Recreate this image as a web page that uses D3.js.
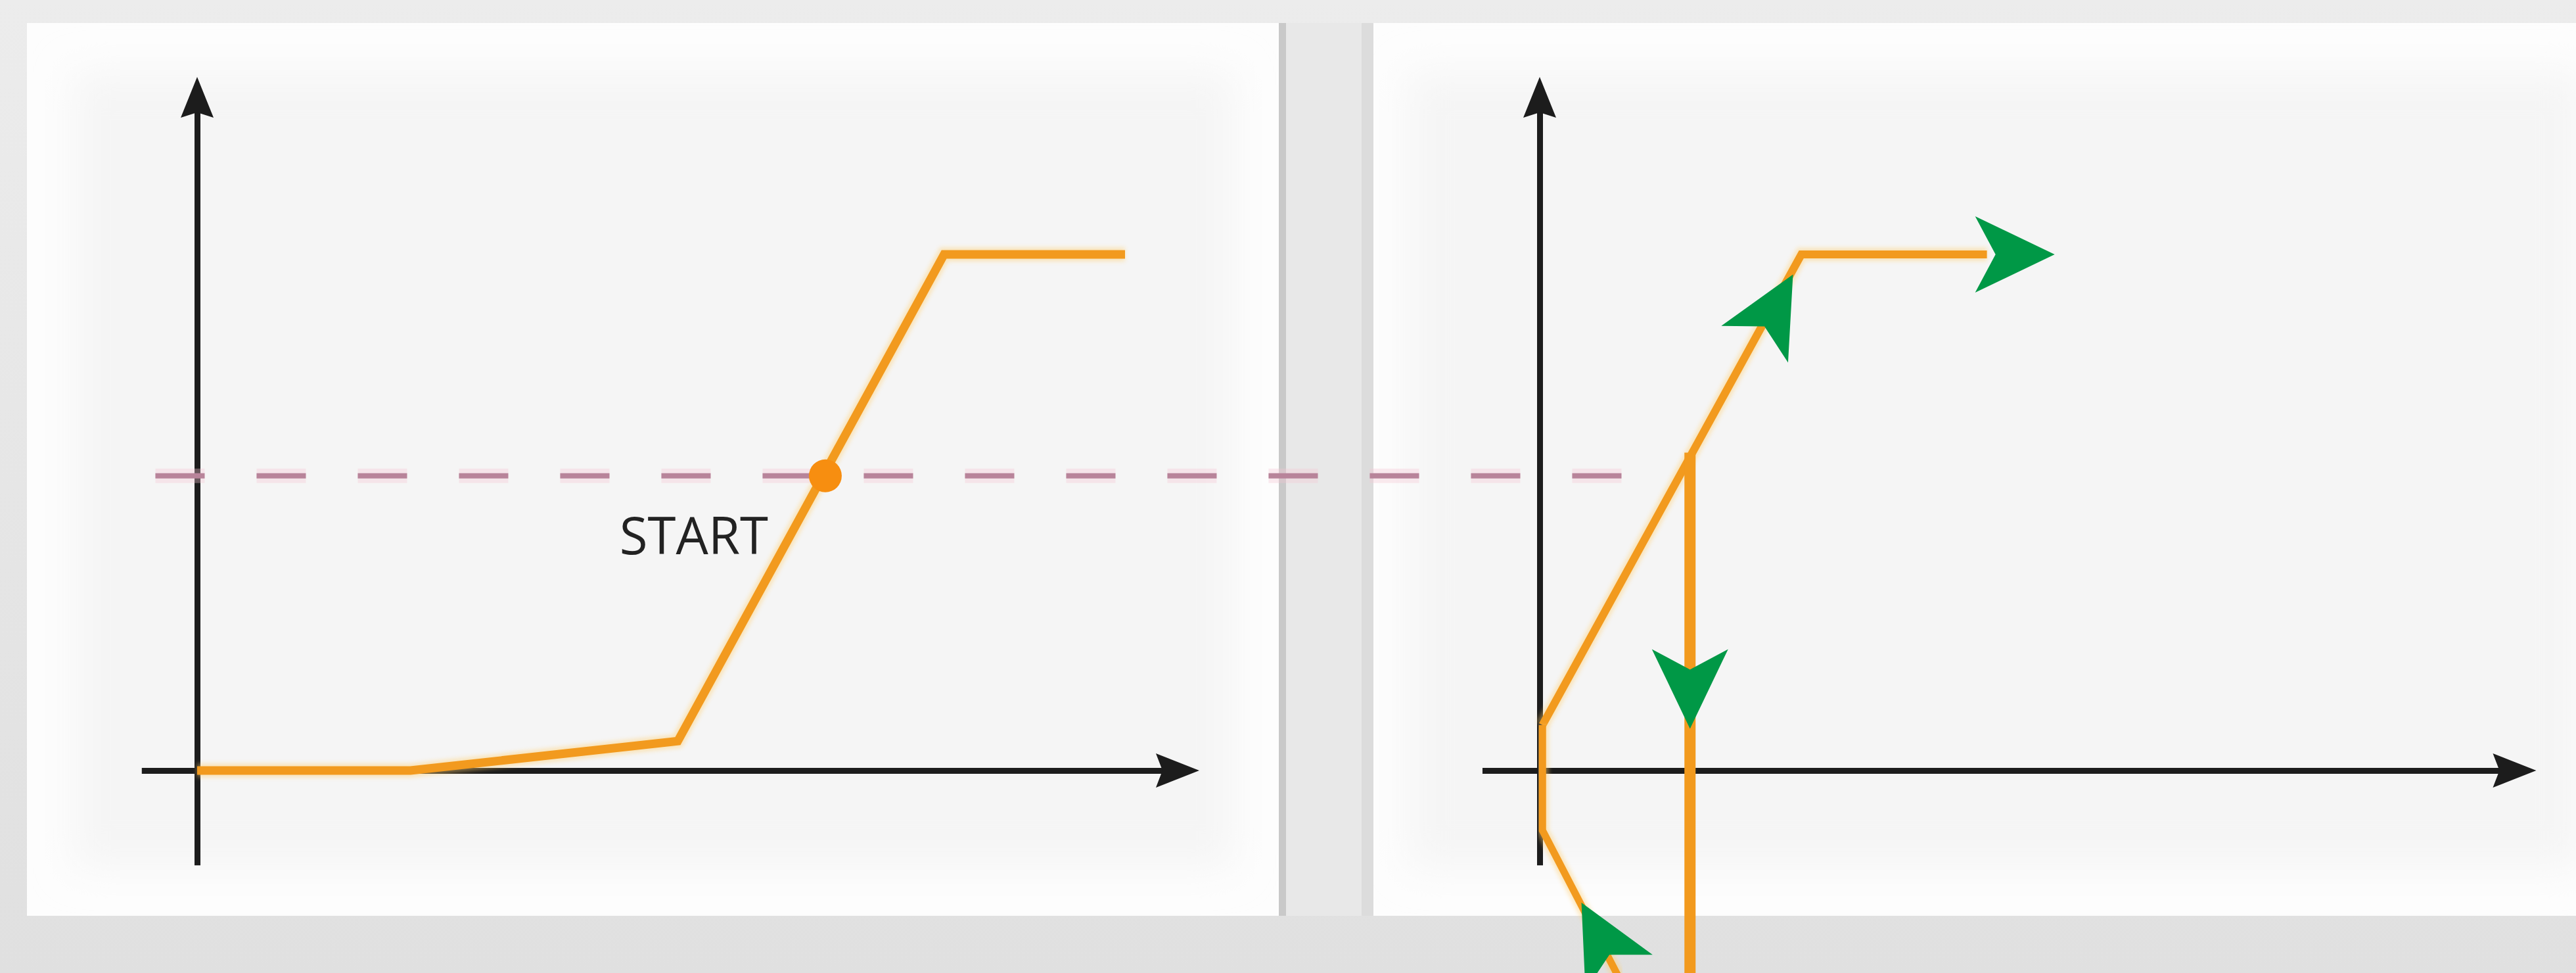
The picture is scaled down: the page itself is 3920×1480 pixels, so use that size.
<!DOCTYPE html>
<html><head><meta charset="utf-8">
<script src="https://cdn.jsdelivr.net/npm/d3@7"></script>
<style>html,body{margin:0;padding:0;background:#e4e4e4;overflow:hidden}
.lbl{font-family:'Open Sans',sans-serif;font-size:78px;fill:#222}</style>
</head><body><svg id="chart"></svg>
<script>
// ---------- data (abstract units: x 0..100 per panel, y 0..100) ----------
const leftCurveX = [0, 23, 51.8, 80.5, 100];
const leftCurveY = [0, 0, 5.7, 100, 100];
const rightRiseX = [0.3, 28.2, 48.2];
const rightRiseY = [8.8, 100, 100];
const rightLowerX = [0.3, 0.3, 8.5];
const rightLowerY = [8.8, -11.6, -40];
const rightDropX = [16.2, 16.2];
const rightDropY = [61.6, -40];
const thresholdY = 57.1;
const thresholdFromX = -4.5;   // in left-panel units
const thresholdToX = 9.1;      // in right-panel units
const startX = 67.7;
const startLabel = "START";
const axisXExtentLeft = [-6, 108];
const axisXExtentRight = [-6.2, 107.4];
const axisYExtent = [-18.3, 134.4];
const arrowTipX = [55.5, 27.3, 16.2, 4.5];
const arrowTipY = [100, 96.1, 8.1, -25.6];
const arrowDirX = [1, 27.9, 0, -8.2];
const arrowDirY = [0, 91.2, -1, 27.5];

// ---------- setup ----------
const W = 3920, H = 1480;
const svg = d3.select("#chart").attr("width", W).attr("height", H);
const defs = svg.append("defs");
defs.append("filter").attr("id", "soft").attr("x", "-20%").attr("y", "-20%").attr("width", "140%").attr("height", "140%")
  .append("feGaussianBlur").attr("stdDeviation", 30);
defs.append("filter").attr("id", "glow").attr("x", "-5%").attr("y", "-5%").attr("width", "110%").attr("height", "110%")
  .append("feGaussianBlur").attr("stdDeviation", 3);
const bg = defs.append("linearGradient").attr("id", "bg").attr("x1", 0).attr("y1", 0).attr("x2", 0).attr("y2", 1);
bg.append("stop").attr("offset", "0%").attr("stop-color", "#ececec");
bg.append("stop").attr("offset", "100%").attr("stop-color", "#e0e0e0");

svg.append("rect").attr("width", W).attr("height", H).attr("fill", "url(#bg)");

const xL = d3.scaleLinear().domain([0, 100]).range([300, 1712]);
const xR = d3.scaleLinear().domain([0, 100]).range([2343, 3755]);
const y = d3.scaleLinear().domain([0, 100]).range([1172, 387]);

// ---------- cards ----------
const cards = [{x0: 41, x1: 1948, pad: 70}, {x0: 2072, x1: 3930, pad: 0}];
cards.forEach(c => {
  svg.append("rect").attr("x", c.x0).attr("y", 35).attr("width", c.x1 - c.x0).attr("height", 1358).attr("fill", "#fdfdfd");
  svg.append("rect").attr("x", c.x0 + 70).attr("y", 110).attr("width", c.x1 - c.x0 - 70 - c.pad).attr("height", 1210)
    .attr("fill", "#f5f5f5").attr("filter", "url(#soft)");
});
svg.append("rect").attr("x", 1946).attr("y", 35).attr("width", 11).attr("height", 1358).attr("fill", "#c9c9c9");
svg.append("rect").attr("x", 2072).attr("y", 35).attr("width", 18).attr("height", 1358).attr("fill", "#dcdcdc");
svg.append("rect").attr("x", 1957).attr("y", 35).attr("width", 115).attr("height", 1358).attr("fill", "#e8e8e8");

// ---------- axes ----------
function drawAxes(xs, extX) {
  const tipX = xs(extX[1]), tipY = y(axisYExtent[1]);
  const xAxisScale = d3.scaleLinear().domain(extX).range([xs(extX[0]), tipX - 30]);
  const yAxisScale = d3.scaleLinear().domain(axisYExtent).range([y(axisYExtent[0]), tipY + 30]);
  const gx = svg.append("g").attr("transform", `translate(0,${y(0)})`)
    .call(d3.axisBottom(xAxisScale).tickValues([]).tickSizeOuter(0));
  const gy = svg.append("g").attr("transform", `translate(${xs(0)},0)`)
    .call(d3.axisLeft(yAxisScale).tickValues([]).tickSizeOuter(0));
  [gx, gy].forEach(g => g.select(".domain").attr("stroke", "#1c1c1c").attr("stroke-width", 9));
  svg.append("path").attr("fill", "#1c1c1c")
    .attr("d", `M${tipX},${y(0)}L${tipX - 66},${y(0) - 26}L${tipX - 56},${y(0)}L${tipX - 66},${y(0) + 26}Z`);
  svg.append("path").attr("fill", "#1c1c1c")
    .attr("d", `M${xs(0)},${tipY}L${xs(0) - 25},${tipY + 62}L${xs(0)},${tipY + 54}L${xs(0) + 25},${tipY + 62}Z`);
}
drawAxes(xL, axisXExtentLeft);
drawAxes(xR, axisXExtentRight);

// ---------- threshold dashed line ----------
svg.append("line")
  .attr("x1", xL(thresholdFromX)).attr("x2", xR(thresholdToX))
  .attr("y1", y(thresholdY)).attr("y2", y(thresholdY))
  .attr("stroke", "#f6c6d4").attr("stroke-width", 22).attr("stroke-dasharray", "75,79").attr("opacity", 0.35);
svg.append("line")
  .attr("x1", xL(thresholdFromX)).attr("x2", xR(thresholdToX))
  .attr("y1", y(thresholdY)).attr("y2", y(thresholdY))
  .attr("stroke", "#b8849a").attr("stroke-width", 8).attr("stroke-dasharray", "75,79");

// ---------- curves ----------
const orange = "#f29a1e";
function curve(xs, X, Y, w) {
  const pts = X.map((v, i) => [xs(v), y(Y[i])]);
  const ln = d3.line();
  svg.append("path").attr("d", ln(pts)).attr("fill", "none").attr("stroke", "#ffcf70")
    .attr("stroke-width", w + 8).attr("opacity", 0.45).attr("stroke-linejoin", "miter").attr("filter", "url(#glow)");
  svg.append("path").attr("d", ln(pts)).attr("fill", "none").attr("stroke", orange)
    .attr("stroke-width", w).attr("stroke-linejoin", "miter");
}
curve(xL, leftCurveX, leftCurveY, 13);
curve(xR, rightRiseX, rightRiseY, 12);
curve(xR, rightLowerX, rightLowerY, 11);
curve(xR, rightDropX, rightDropY, 17);

// start point and label
svg.append("circle").attr("cx", xL(startX)).attr("cy", y(thresholdY)).attr("r", 25).attr("fill", "#f78e10");
svg.append("text").attr("class", "lbl").attr("x", xL(startX) - 200).attr("y", 843)
  .attr("text-anchor", "middle").text(startLabel);

// ---------- green direction arrows ----------
arrowTipX.forEach((tx, i) => {
  const px = xR(tx), py = y(arrowTipY[i]);
  const qx = xR(tx + arrowDirX[i]), qy = y(arrowTipY[i] + arrowDirY[i]);
  const ang = Math.atan2(qy - py, qx - px) * 180 / Math.PI;
  svg.append("path").attr("fill", "#009846")
    .attr("transform", `translate(${px},${py}) rotate(${ang})`)
    .attr("d", "M0,0L-121,-58L-90,0L-121,58Z");
});
</script></body></html>
